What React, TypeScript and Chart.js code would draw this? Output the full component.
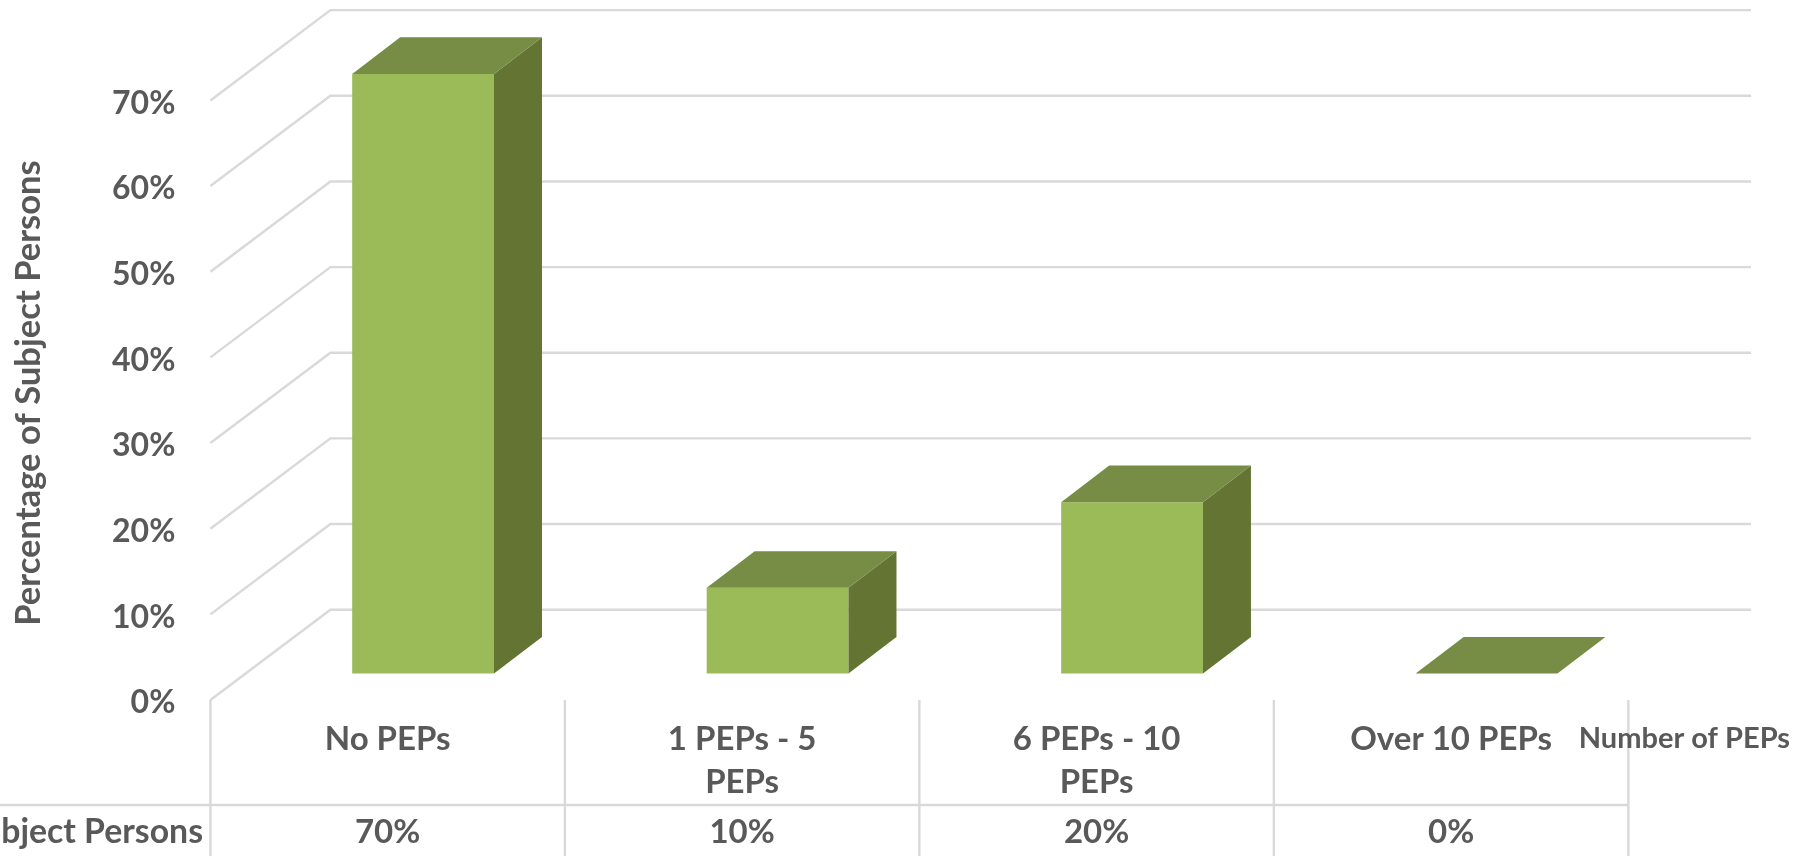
import React, { useEffect, useRef } from "react";
import { Chart, registerables } from "chart.js";

Chart.register(...registerables);

const categories: (string | string[])[] = ["No PEPs", ["1 PEPs - 5", "PEPs"], ["6 PEPs - 10", "PEPs"], "Over 10 PEPs"];
const shareValues = [70, 10, 20, 0];
const shareLabels = ["70%", "10%", "20%", "0%"];
const yTickValues = [0, 10, 20, 30, 40, 50, 60, 70];
const yAxisTitle = "Percentage of Subject Persons";
const xAxisTitle = "Number of PEPs";
const tableHeader = "Percentage of Subject Persons";

const FONT = "Lato, 'Open Sans', sans-serif";
const TEXT = "#595959";
const GRID = "#D9D9D9";
const FRONT = "#9BBB59";
const SIDE = "#637433";
const TOP = "#778D45";

const DEPTH_X = 120;
const DEPTH_Y = 90.3;
const BAR_DX = 48;
const BAR_DY = 36.6;
const W = 1793;
const H = 856;
const TABLE_Y = 805;

const zeroPad = (s: any) => {
  s.paddingLeft = 0;
  s.paddingRight = 0;
  s.paddingTop = 0;
  s.paddingBottom = 0;
};

const chrome = {
  id: "chrome",
  beforeDatasetsDraw(chart: any) {
    const { ctx, scales } = chart;
    const { y, x } = scales;
    const left = x.getPixelForValue(-0.5);
    const right = chart.chartArea.right;
    ctx.save();
    ctx.strokeStyle = GRID;
    ctx.lineWidth = 2.4;
    for (const v of yTickValues) {
      const py = y.getPixelForValue(v);
      ctx.beginPath();
      ctx.moveTo(left, py);
      ctx.lineTo(left + DEPTH_X, py - DEPTH_Y);
      ctx.lineTo(right, py - DEPTH_Y);
      ctx.stroke();
    }
    const front0 = y.getPixelForValue(0);
    categories.concat([""]).forEach((_, i) => {
      const px = x.getPixelForValue(i - 0.5);
      ctx.beginPath();
      ctx.moveTo(px, front0);
      ctx.lineTo(px, H);
      ctx.stroke();
    });
    ctx.beginPath();
    ctx.moveTo(0, TABLE_Y);
    ctx.lineTo(x.getPixelForValue(categories.length - 0.5), TABLE_Y);
    ctx.stroke();
    ctx.restore();
  },
  afterDatasetsDraw(chart: any) {
    const { ctx, scales } = chart;
    const { x } = scales;
    const meta = chart.getDatasetMeta(0);
    ctx.save();
    meta.data.forEach((bar: any) => {
      const l = bar.x - bar.width / 2;
      const r = bar.x + bar.width / 2;
      const t = bar.y;
      const b = bar.base;
      if (b - t > 0.5) {
        ctx.fillStyle = SIDE;
        ctx.beginPath();
        ctx.moveTo(r, t);
        ctx.lineTo(r + BAR_DX, t - BAR_DY);
        ctx.lineTo(r + BAR_DX, b - BAR_DY);
        ctx.lineTo(r, b);
        ctx.closePath();
        ctx.fill();
      }
      ctx.fillStyle = TOP;
      ctx.beginPath();
      ctx.moveTo(l, t);
      ctx.lineTo(l + BAR_DX, t - BAR_DY);
      ctx.lineTo(r + BAR_DX, t - BAR_DY);
      ctx.lineTo(r, t);
      ctx.closePath();
      ctx.fill();
    });
    ctx.fillStyle = TEXT;
    ctx.textBaseline = "middle";
    ctx.font = `bold 33px ${FONT}`;
    ctx.textAlign = "center";
    shareLabels.forEach((s, i) => ctx.fillText(s, x.getPixelForValue(i), 832));
    ctx.font = `bold 33.8px ${FONT}`;
    ctx.textAlign = "right";
    ctx.fillText(tableHeader, 203, 832);
    ctx.font = `bold 29px ${FONT}`;
    ctx.textAlign = "right";
    ctx.fillText(xAxisTitle, 1790, 739);
    ctx.translate(29, 393);
    ctx.rotate(-Math.PI / 2);
    ctx.font = `bold 34.6px ${FONT}`;
    ctx.textAlign = "center";
    ctx.fillText(yAxisTitle, 0, 0);
    ctx.restore();
  },
};

export default function App() {
  const ref = useRef<HTMLCanvasElement>(null);
  useEffect(() => {
    const chart = new Chart(ref.current!, {
      type: "bar",
      data: {
        datasets: [
          {
            label: "Percentage of Subject Persons",
            data: shareValues.map((v, i) => ({ x: i, y: v })),
            backgroundColor: FRONT,
            borderWidth: 0,
            xAxisID: "xBar",
            yAxisID: "yBar",
            barPercentage: 0.4,
            categoryPercentage: 1,
            clip: false as any,
          },
        ],
      },
      options: {
        animation: false,
        responsive: false,
        maintainAspectRatio: false,
        layout: { padding: { top: 11, right: 42, left: 0, bottom: 0 } },
        plugins: { legend: { display: false }, tooltip: { enabled: false }, title: { display: false } },
        scales: {
          x: {
            type: "linear",
            position: "bottom",
            offset: false,
            min: -0.5,
            max: 3.846,
            afterBuildTicks: (s: any) => {
              s.ticks = categories.map((_, i) => ({ value: i }));
            },
            afterFit: (s: any) => {
              s.height = 156;
              zeroPad(s);
            },
            grid: { display: false },
            border: { display: false },
            ticks: {
              callback: (_v: any, i: number) => categories[i] as any,
              autoSkip: false,
              maxRotation: 0,
              minRotation: 0,
              padding: 10,
              color: TEXT,
              font: { family: FONT, weight: "bold", size: 33, lineHeight: 1.31 },
            },
          },
          xBar: {
            type: "linear",
            display: false,
            offset: false,
            min: -0.6,
            max: 3.746,
            afterBuildTicks: (s: any) => {
              s.ticks = categories.map((_, i) => ({ value: i }));
            },
            afterFit: (s: any) => {
              s.height = 0;
              zeroPad(s);
            },
          },
          y: {
            type: "linear",
            position: "left",
            min: 0,
            max: 80.44,
            afterBuildTicks: (s: any) => {
              s.ticks = yTickValues.map((v) => ({ value: v }));
            },
            afterFit: (s: any) => {
              s.width = 210.4;
              zeroPad(s);
            },
            grid: { display: false },
            border: { display: false },
            ticks: {
              callback: (v: any) => `${v}%`,
              padding: 27,
              labelOffset: 3,
              color: TEXT,
              font: { family: FONT, weight: "bold", size: 32 },
            },
          },
          yBar: {
            type: "linear",
            display: false,
            position: "left",
            min: -3.096,
            max: 77.344,
            afterFit: (s: any) => {
              s.width = 0;
              zeroPad(s);
            },
          },
        },
      } as any,
      plugins: [chrome],
    });
    return () => chart.destroy();
  }, []);
  return (
    <div style={{ position: "fixed", left: 0, top: 0, width: W, height: H, background: "#fff" }}>
      <canvas ref={ref} width={W} height={H} style={{ display: "block", width: W, height: H }} />
    </div>
  );
}
